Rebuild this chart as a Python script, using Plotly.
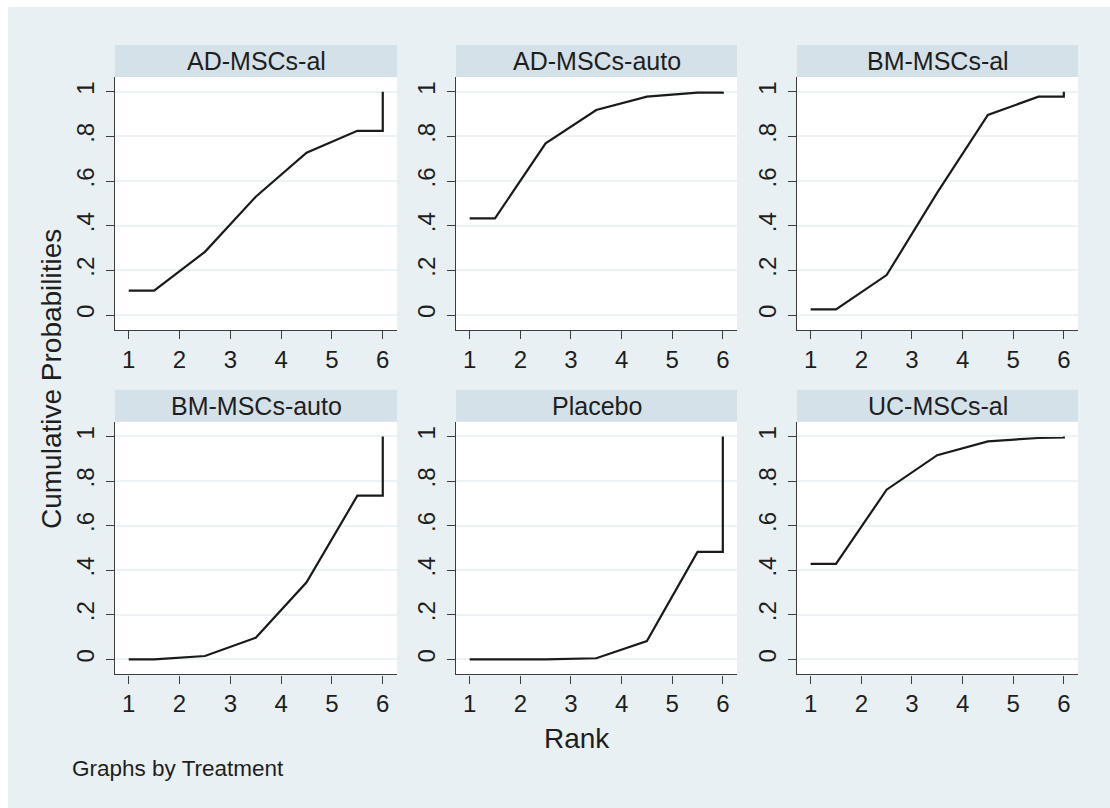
import plotly.graph_objects as go

# Cumulative ranking probabilities per treatment (Stata-style step ends)
ranks = [1, 1.5, 2.5, 3.5, 4.5, 5.5, 6, 6]
treatments = ["AD-MSCs-al", "AD-MSCs-auto", "BM-MSCs-al",
              "BM-MSCs-auto", "Placebo", "UC-MSCs-al"]

ad_mscs_al = [0.109, 0.109, 0.283, 0.530, 0.727, 0.825, 0.825, 1.0]
ad_mscs_auto = [0.433, 0.433, 0.769, 0.918, 0.978, 0.996, 0.996, 1.0]
bm_mscs_al = [0.025, 0.025, 0.179, 0.548, 0.896, 0.978, 0.978, 1.0]
bm_mscs_auto = [0.0, 0.0, 0.015, 0.097, 0.346, 0.734, 0.734, 1.0]
placebo = [0.0, 0.0, 0.0, 0.005, 0.082, 0.482, 0.482, 1.0]
uc_mscs_al = [0.428, 0.428, 0.761, 0.916, 0.978, 0.993, 0.995, 1.0]

series = [ad_mscs_al, ad_mscs_auto, bm_mscs_al,
          bm_mscs_auto, placebo, uc_mscs_al]

x_ticks = [1, 2, 3, 4, 5, 6]
y_ticks = [0, 0.2, 0.4, 0.6, 0.8, 1.0]
y_ticktext = ["0", ".2", ".4", ".6", ".8", "1"]

W, H = 1110, 808
FONT = "Liberation Sans, Arial, sans-serif"
BG = "#e8f0f3"
STRIP = "#d5e1e8"
GRID = "#edf2f4"
AXIS = "#3c3c3c"
TEXT = "#1e1e1e"

# panel pixel boxes (left, right) and (top, bottom)
cols = [(115, 397), (456, 737), (797, 1078)]
rows = [(77, 330), (421.7, 674.3)]
strip_h = 32


def fx(px):
    return px / W


def fy(py):
    return 1 - py / H


fig = go.Figure()
shapes = [dict(type="rect", xref="paper", yref="paper",
               x0=fx(8), x1=1, y0=0, y1=fy(7),
               fillcolor=BG, line=dict(width=0), layer="below")]
annotations = []
layout_axes = {}

for i, (name, vals) in enumerate(zip(treatments, series)):
    r, c = divmod(i, 3)
    (l, rr), (t, b) = cols[c], rows[r]
    n = i + 1
    xa = "xaxis" if n == 1 else f"xaxis{n}"
    ya = "yaxis" if n == 1 else f"yaxis{n}"
    xs = "x" if n == 1 else f"x{n}"
    ys = "y" if n == 1 else f"y{n}"

    fig.add_trace(go.Scatter(
        x=ranks, y=vals, mode="lines", xaxis=xs, yaxis=ys,
        line=dict(color="#1a1a1a", width=2.2), showlegend=False,
        hoverinfo="skip"))

    layout_axes[xa] = dict(
        domain=[fx(l), fx(rr)], anchor=ys, range=[0.73, 6.28],
        tickvals=x_ticks, ticktext=[str(v) for v in x_ticks],
        showgrid=False, zeroline=False, showline=True,
        linecolor=AXIS, linewidth=1.4, ticks="outside", ticklen=8,
        tickwidth=1.4, tickcolor=AXIS, ticklabelstandoff=0,
        tickfont=dict(family=FONT, size=24, color=TEXT),
        fixedrange=True, automargin=False)
    layout_axes[ya] = dict(
        domain=[fy(b), fy(t)], anchor=xs, range=[-0.067, 1.066],
        tickvals=y_ticks, ticktext=y_ticktext, tickangle=-90,
        showgrid=True, gridcolor=GRID, gridwidth=2, zeroline=False,
        showline=True, linecolor=AXIS, linewidth=1.4, ticks="outside",
        ticklen=8, tickwidth=1.4, tickcolor=AXIS, ticklabelstandoff=2,
        tickfont=dict(family=FONT, size=24, color=TEXT),
        fixedrange=True, automargin=False)

    # white plotting area
    shapes.append(dict(type="rect", xref="paper", yref="paper",
                       x0=fx(l), x1=fx(rr), y0=fy(b), y1=fy(t),
                       fillcolor="white", line=dict(width=0), layer="below"))
    # panel heading strip
    shapes.append(dict(type="rect", xref="paper", yref="paper",
                       x0=fx(l), x1=fx(rr), y0=fy(t), y1=fy(t - strip_h),
                       fillcolor=STRIP, line=dict(width=0), layer="below"))
    annotations.append(dict(
        text=name, xref="paper", yref="paper",
        x=fx((l + rr) / 2), y=fy(t - strip_h / 2),
        xanchor="center", yanchor="middle", showarrow=False,
        font=dict(family=FONT, size=25, color=TEXT)))

annotations += [
    dict(text="Rank", xref="paper", yref="paper", x=fx(577), y=fy(738),
         xanchor="center", yanchor="middle", showarrow=False,
         font=dict(family=FONT, size=28, color=TEXT)),
    dict(text="Cumulative Probabilities", xref="paper", yref="paper",
         x=fx(51), y=fy(379), xanchor="center", yanchor="middle",
         textangle=-90, showarrow=False,
         font=dict(family=FONT, size=28, color=TEXT)),
    dict(text="Graphs by Treatment", xref="paper", yref="paper",
         x=fx(70), y=fy(768), xanchor="left", yanchor="middle",
         showarrow=False, font=dict(family=FONT, size=22.5, color=TEXT)),
]

fig.update_layout(
    width=W, height=H, margin=dict(l=0, r=0, t=0, b=0),
    paper_bgcolor="white", plot_bgcolor="rgba(0,0,0,0)",
    shapes=shapes, annotations=annotations, showlegend=False,
    **layout_axes)

fig.write_html("out.html", config={"displayModeBar": False})
